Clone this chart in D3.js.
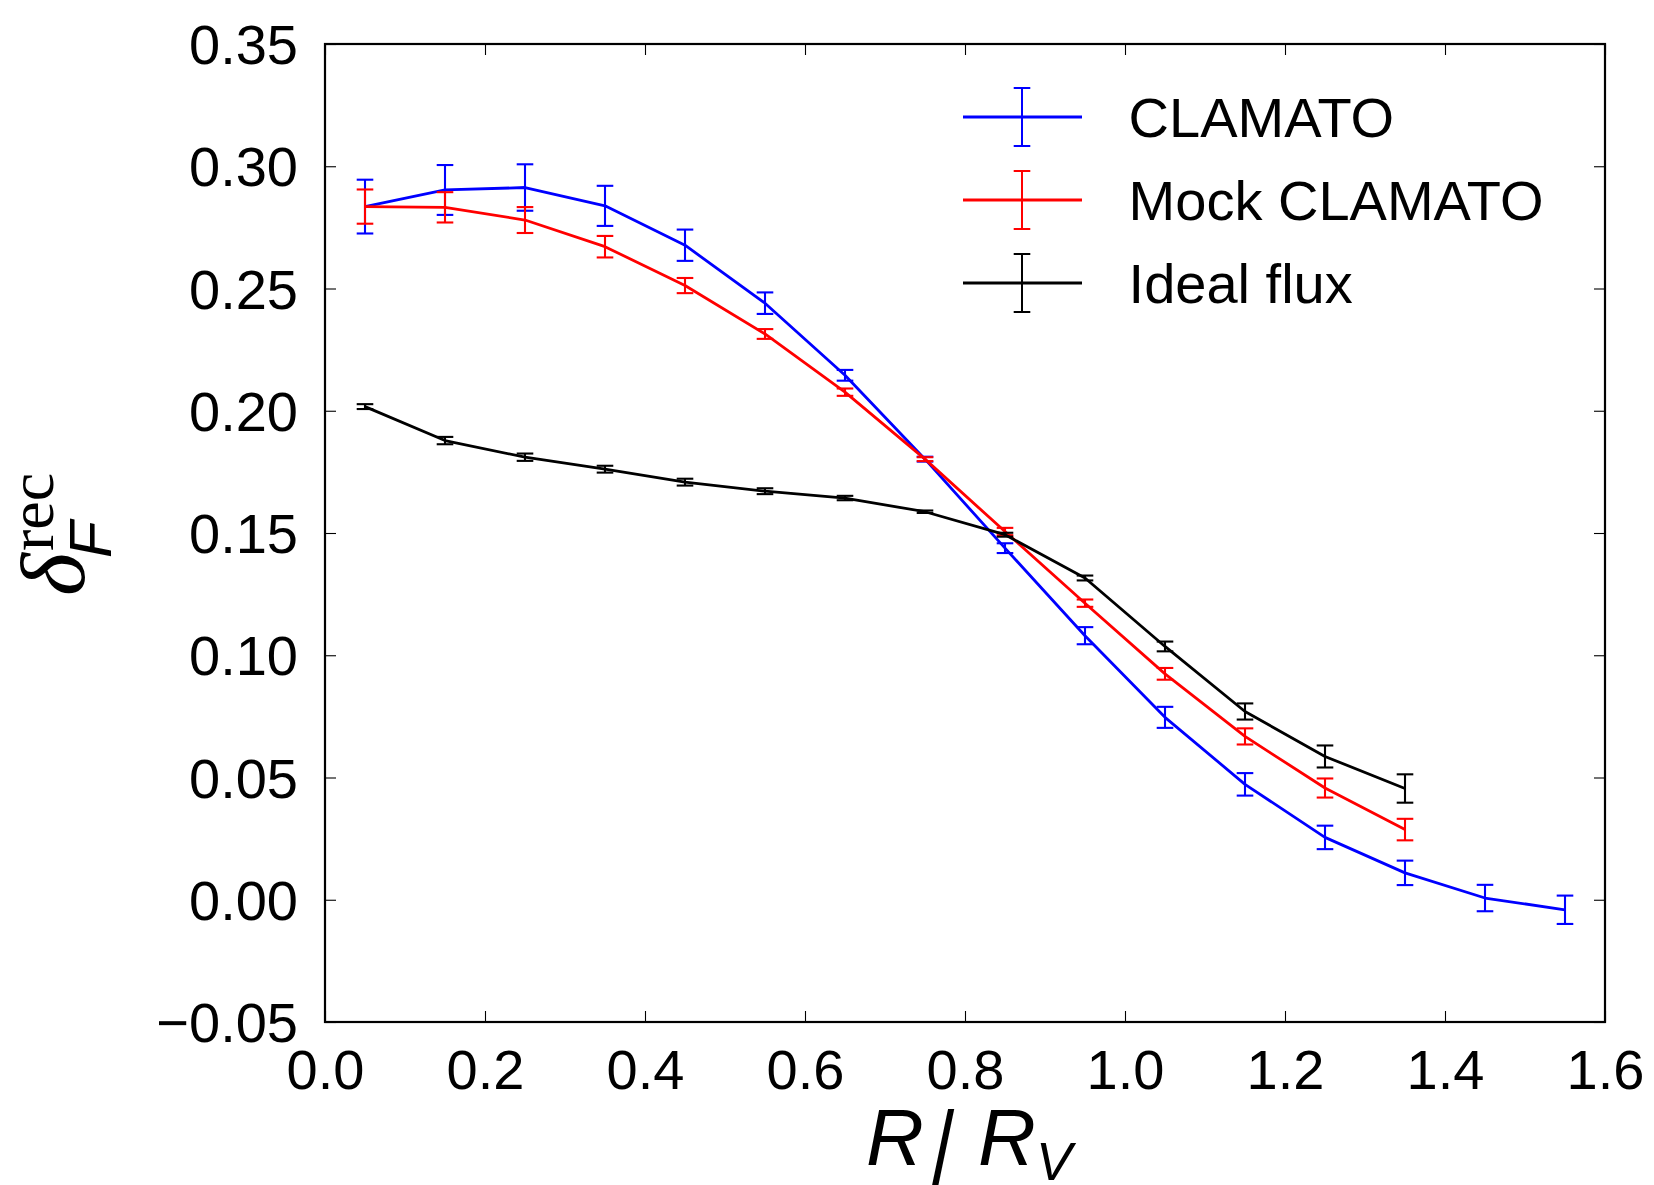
<!DOCTYPE html>
<html>
<head>
<meta charset="utf-8">
<script src="https://cdn.jsdelivr.net/npm/d3@7"></script>
<style>
  html, body { margin: 0; padding: 0; background: #fff; }
</style>
</head>
<body>
<svg id="chart" width="1654" height="1185"></svg>
<script>
// Stacked radial profile of reconstructed flux contrast, binned in R / R_V
const radiusBins = [0.05, 0.15, 0.25, 0.35, 0.45, 0.55, 0.65, 0.75, 0.85, 0.95, 1.05, 1.15, 1.25, 1.35, 1.45, 1.55];

const clamatoValues = [0.2835, 0.2903, 0.2913, 0.2838, 0.2677, 0.2440, 0.2145, 0.1802, 0.1438, 0.1080, 0.0746, 0.0472, 0.0255, 0.0110, 0.0007, -0.0041];
const clamatoErrors = [0.0110, 0.0102, 0.0095, 0.0082, 0.0064, 0.0044, 0.0022, 0.0010, 0.0020, 0.0035, 0.0043, 0.0046, 0.0048, 0.0050, 0.0054, 0.0058];

const mockValues = [0.2835, 0.2832, 0.2780, 0.2671, 0.2512, 0.2314, 0.2076, 0.1802, 0.1506, 0.1213, 0.0924, 0.0668, 0.0457, 0.0287];
const mockErrors = [0.0070, 0.0062, 0.0053, 0.0044, 0.0031, 0.0020, 0.0015, 0.0008, 0.0015, 0.0015, 0.0024, 0.0033, 0.0039, 0.0044];

const idealValues = [0.2017, 0.1878, 0.1810, 0.1761, 0.1708, 0.1671, 0.1643, 0.1587, 0.1493, 0.1316, 0.1036, 0.0770, 0.0586, 0.0455];
const idealErrors = [0.0010, 0.0015, 0.0015, 0.0014, 0.0014, 0.0012, 0.0009, 0.0005, 0.0008, 0.0010, 0.0020, 0.0033, 0.0045, 0.0058];

const seriesNames = ["CLAMATO", "Mock CLAMATO", "Ideal flux"];
const seriesColors = ["#0000ff", "#ff0000", "#000000"];

const xTicks = [0.0, 0.2, 0.4, 0.6, 0.8, 1.0, 1.2, 1.4, 1.6];
const yTicks = [-0.05, 0.00, 0.05, 0.10, 0.15, 0.20, 0.25, 0.30, 0.35];

const SANS = "'Liberation Sans', Arial, Helvetica, sans-serif";
const SERIF = "'Liberation Serif', 'DejaVu Serif', serif";

const svg = d3.select("#chart");
const margin = { left: 325, right: 1605, top: 44, bottom: 1022 };

const x = d3.scaleLinear().domain([0, 1.6]).range([margin.left, margin.right]);
const y = d3.scaleLinear().domain([-0.05, 0.35]).range([margin.bottom, margin.top]);

const series = [
  { name: seriesNames[0], color: seriesColors[0], vals: clamatoValues, errs: clamatoErrors },
  { name: seriesNames[1], color: seriesColors[1], vals: mockValues, errs: mockErrors },
  { name: seriesNames[2], color: seriesColors[2], vals: idealValues, errs: idealErrors }
];

const tickLen = 11;
const fmt = d => (d < 0 ? "\u2212" : "") + Math.abs(d).toFixed(2);

// Axes with inward ticks on all four sides
const axisBottom = d3.axisBottom(x).tickValues(xTicks).tickSizeInner(-tickLen).tickSizeOuter(0).tickFormat(d3.format(".1f"));
const axisTop = d3.axisTop(x).tickValues(xTicks).tickSizeInner(-tickLen).tickSizeOuter(0).tickFormat("");
const axisLeft = d3.axisLeft(y).tickValues(yTicks).tickSizeInner(-tickLen).tickSizeOuter(0).tickPadding(27).tickFormat(fmt);
const axisRight = d3.axisRight(y).tickValues(yTicks).tickSizeInner(-tickLen).tickSizeOuter(0).tickFormat("");

function styleAxis(g) {
  g.select(".domain").remove();
  g.selectAll(".tick line").attr("stroke", "#000").attr("stroke-width", 1.1);
  g.selectAll(".tick text").attr("fill", "#000").attr("font-size", 56).style("font-family", SANS);
}

const gBottom = svg.append("g").attr("transform", `translate(0,${margin.bottom})`).call(axisBottom).call(styleAxis);
svg.append("g").attr("transform", `translate(0,${margin.top})`).call(axisTop).call(styleAxis);
const gLeft = svg.append("g").attr("transform", `translate(${margin.left},0)`).call(axisLeft).call(styleAxis);
svg.append("g").attr("transform", `translate(${margin.right},0)`).call(axisRight).call(styleAxis);

gBottom.selectAll(".tick text").attr("y", 67).attr("dy", null);
gLeft.selectAll(".tick text").attr("dy", null).attr("dominant-baseline", "central");

// Series: line plus vertical error bars with caps
const line = d3.line().x(d => x(d.r)).y(d => y(d.v));
const capHalf = 8.3;

series.forEach(s => {
  const pts = s.vals.map((v, i) => ({ r: radiusBins[i], v: v, e: s.errs[i] }));
  const g = svg.append("g");
  g.append("path").datum(pts).attr("d", line)
    .attr("fill", "none").attr("stroke", s.color).attr("stroke-width", 2.8).attr("stroke-linejoin", "round");
  const eb = g.selectAll("g.eb").data(pts).join("g").attr("class", "eb")
    .attr("stroke", s.color).attr("stroke-width", 2.1);
  eb.append("line").attr("x1", d => x(d.r)).attr("x2", d => x(d.r))
    .attr("y1", d => y(d.v - d.e)).attr("y2", d => y(d.v + d.e));
  eb.append("line").attr("x1", d => x(d.r) - capHalf).attr("x2", d => x(d.r) + capHalf)
    .attr("y1", d => y(d.v + d.e)).attr("y2", d => y(d.v + d.e));
  eb.append("line").attr("x1", d => x(d.r) - capHalf).attr("x2", d => x(d.r) + capHalf)
    .attr("y1", d => y(d.v - d.e)).attr("y2", d => y(d.v - d.e));
});

// Frame
svg.append("rect").attr("x", margin.left).attr("y", margin.top)
  .attr("width", margin.right - margin.left).attr("height", margin.bottom - margin.top)
  .attr("fill", "none").attr("stroke", "#000").attr("stroke-width", 2.2);

// Legend
const legend = svg.append("g");
const legX0 = 963, legX1 = 1082, legMid = 1022, legText = 1128.6;
const legRows = [117, 200, 283];
series.forEach((s, i) => {
  const yy = legRows[i];
  const g = legend.append("g").attr("stroke", s.color);
  g.append("line").attr("x1", legX0).attr("x2", legX1).attr("y1", yy).attr("y2", yy).attr("stroke-width", 2.8);
  g.append("line").attr("x1", legMid).attr("x2", legMid).attr("y1", yy - 29).attr("y2", yy + 29).attr("stroke-width", 2);
  g.append("line").attr("x1", legMid - capHalf).attr("x2", legMid + capHalf).attr("y1", yy - 29).attr("y2", yy - 29).attr("stroke-width", 2);
  g.append("line").attr("x1", legMid - capHalf).attr("x2", legMid + capHalf).attr("y1", yy + 29).attr("y2", yy + 29).attr("stroke-width", 2);
  legend.append("text").attr("x", legText).attr("y", yy).attr("dominant-baseline", "central")
    .attr("font-size", 56).attr("fill", "#000").style("font-family", SANS).text(s.name);
});

// X axis label: R / R_V
const xl = svg.append("g").attr("fill", "#000").style("font-family", SANS);
xl.append("text").attr("x", 866).attr("y", 1165).attr("font-size", 80).attr("font-style", "italic").text("R");
xl.append("text").attr("transform", "translate(932,1184) scale(1,1.3)").attr("font-size", 80).text("/");
xl.append("text").attr("x", 978).attr("y", 1165).attr("font-size", 80).attr("font-style", "italic").text("R");
xl.append("text").attr("x", 1036).attr("y", 1180).attr("font-size", 54).attr("font-style", "italic").text("V");

// Y axis label: delta_F^rec, rotated
const yl = svg.append("g").attr("transform", "translate(84,596) rotate(-90)").attr("fill", "#000");
yl.append("text").attr("x", 0).attr("y", 0).attr("font-size", 92).style("font-family", SERIF).attr("font-style", "italic").text("\u03b4");
yl.append("text").attr("x", 45).attr("y", -31).attr("font-size", 64).style("font-family", SERIF).text("rec");
yl.append("text").attr("x", 38).attr("y", 27).attr("font-size", 60).attr("font-style", "italic").style("font-family", SANS).text("F");
</script>
</body>
</html>
